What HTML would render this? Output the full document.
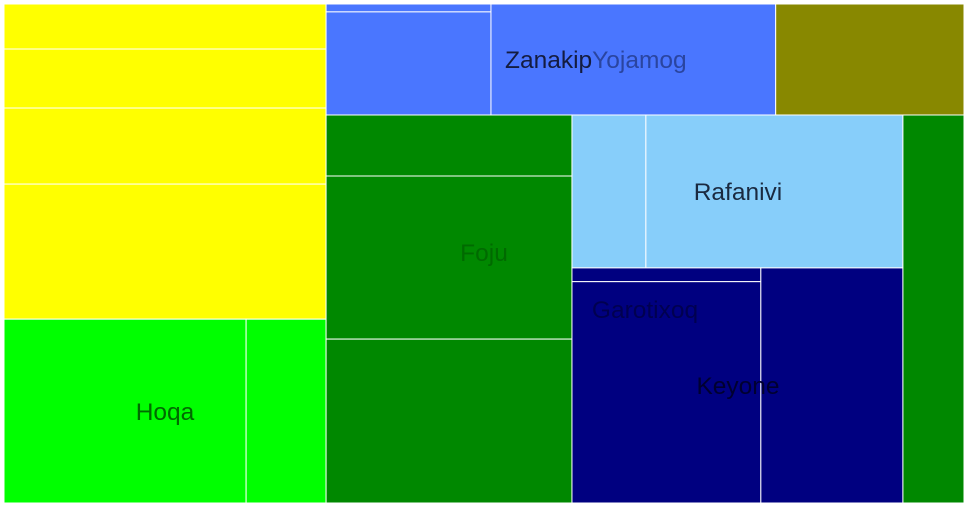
<!DOCTYPE html>
<html><head><meta charset="utf-8"><style>
html,body{margin:0;padding:0;background:#fff;width:966px;height:507px;overflow:hidden}
svg{display:block;font-family:"Liberation Sans",sans-serif}
</style></head><body>
<svg id="chart" width="966" height="507" xmlns="http://www.w3.org/2000/svg"></svg>
<script>
// leaf values per group
const yellowValues = [145, 190, 245, 435];
const limeValues = [445, 147];
const blueLeftValues = [13, 170];
const blueRightValues = [316];
const oliveValues = [209];
const greenValues = [150, 401, 403];
const lightBlueValues = [113, 393];
const navyLeftValues = [26, 418];
const navyRightValues = [334];
const greenRightValues = [237];
const groupNames = ["Yellow","Hoqa","Zanakip","Yojamog","Olive","Foju","Rafanivi","Garotixoq","Keyone","Green"];

function leaves(vals, color, dir, name){return {dir, color, name, children: vals.map(v=>({value:v,color}))};}
const tree = {dir:'h', children:[
  {dir:'v', children:[leaves(yellowValues,'#ffff00','v','yellow-group'), leaves(limeValues,'#00ff00','h','hoqa-group')]},
  {dir:'v', children:[
    {dir:'h', children:[
      {dir:'h', children:[leaves(blueLeftValues,'#4a76ff','v','zanakip-group'), leaves(blueRightValues,'#4a76ff','v','yojamog-group')]},
      leaves(oliveValues,'#888800','v','olive-group')]},
    {dir:'h', children:[
      leaves(greenValues,'#008800','v','foju-group'),
      {dir:'v', children:[leaves(lightBlueValues,'#87cefa','h','rafanivi-group'),
        {dir:'h', children:[leaves(navyLeftValues,'#000080','v','garotixoq-group'), leaves(navyRightValues,'#000080','v','keyone-group')]}]},
      leaves(greenRightValues,'#008800','v','green-right-group')]}
  ]}
]};
function sum(n){return n.children? n.children.reduce((a,c)=>a+sum(c),0) : n.value;}
const svg=document.getElementById('chart');
const NS='http://www.w3.org/2000/svg';
function layout(n,x,y,w,h){
  if(!n.children){
    const r=document.createElementNS(NS,'rect');
    r.setAttribute('x',x);r.setAttribute('y',y);r.setAttribute('width',w);r.setAttribute('height',h);
    r.setAttribute('fill',n.color);r.setAttribute('stroke','#fff');r.setAttribute('stroke-width','1');
    
    
    svg.appendChild(r);return;
  }
  const t=sum(n);let o=0;
  n.children.forEach(c=>{const f=sum(c)/t;
    if(n.dir==='h'){layout(c,x+o,y,w*f,h);o+=w*f;}else{layout(c,x,y+o,w,h*f);o+=h*f;}});
}
layout(tree,4,4,960,499);
const labels=[["Hoqa",165,420,"#006a00"],["Foju",484,261,"#006a00"],["Rafanivi",738,200,"#1a2a40"],["Garotixoq",645,318,"#000050"],["Keyone",738,394,"#000030"]];
labels.forEach(l=>{const t=document.createElementNS(NS,'text');
  t.setAttribute('x',l[1]);t.setAttribute('y',l[2]);t.setAttribute('text-anchor','middle');
  t.setAttribute('font-size','24.5');t.setAttribute('fill',l[3]);t.textContent=l[0];
  
  
  svg.appendChild(t);});
const z=document.createElementNS(NS,'text');
z.setAttribute('x',505);z.setAttribute('y',68);z.setAttribute('font-size','24.5');
z.innerHTML='<tspan fill="#141c40">Zanakip</tspan><tspan fill="#2a45a0">Yojamog</tspan>';


svg.appendChild(z);
</script>
</body></html>
